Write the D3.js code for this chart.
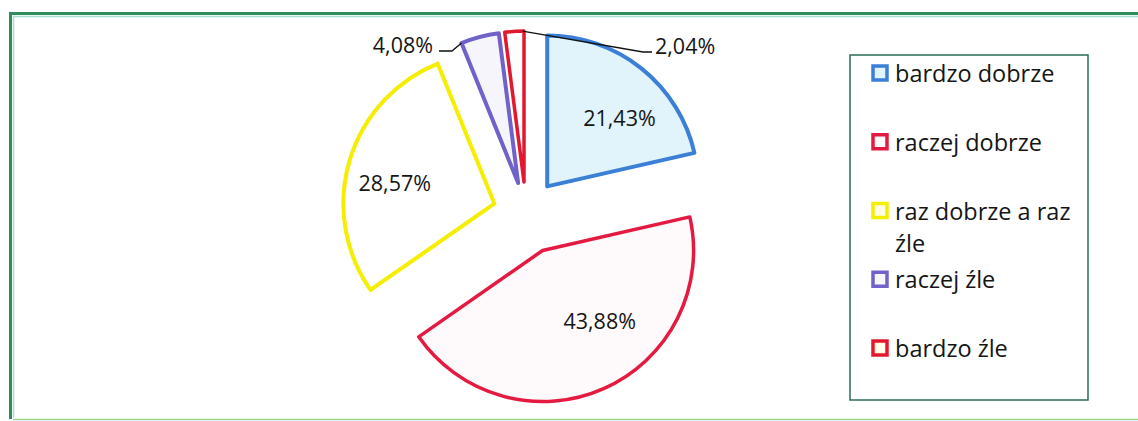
<!DOCTYPE html>
<html><head><meta charset="utf-8">
<script src="https://cdn.jsdelivr.net/npm/d3@7"></script>
<style>html,body{margin:0;padding:0;background:#fff;overflow:hidden}</style>
</head><body>
<svg id="c" width="1138" height="421"></svg>
<script>
// ---- data ----
const categories = ["bardzo dobrze", "raczej dobrze", "raz dobrze a raz źle", "raczej źle", "bardzo źle"];
const values = [21.43, 43.88, 28.57, 4.08, 2.04];
const labels = ["21,43%", "43,88%", "28,57%", "4,08%", "2,04%"];
const legendLines = [["bardzo dobrze"], ["raczej dobrze"], ["raz dobrze a raz", "źle"], ["raczej źle"], ["bardzo źle"]];

// ---- style ----
const strokes = ["#3b7fd6", "#e51a40", "#f4ee00", "#6f62c9", "#e3182e"];
const fills = ["#e1f3fb", "#fefafb", "#ffffff", "#f6f5fc", "#ffffff"];
const strokeW = [4, 3.5, 4, 4, 3.5];
const explode = [34, 41, 33, 31, 31];
const labelNudge = [[12, 7], [18, -18], [-7, 6], [0, 0], [0, 0]];
const font = "'Open Sans', 'DejaVu Sans', sans-serif";

const svg = d3.select("#c");
const cx = 526, cy = 213, R = 151;

// frame
svg.append("path").attr("d", "M1140,13.5 H10.5 V419").attr("fill", "none")
  .attr("stroke", "#2f8d5c").attr("stroke-width", 3);
svg.append("path").attr("d", "M1140,16.5 H13.5 V417.5").attr("fill", "none")
  .attr("stroke", "#a9dcd0").attr("stroke-width", 1.5);
svg.append("line").attr("x1", 13).attr("x2", 1138).attr("y1", 419.5).attr("y2", 419.5)
  .attr("stroke", "#9bd58a").attr("stroke-width", 1.5);

const pie = d3.pie().sort(null).value(d => d)(values);
const arc = d3.arc().innerRadius(0).outerRadius(R);
const labelArc = d3.arc().innerRadius(R * 0.64).outerRadius(R * 0.64);

const g = svg.append("g").attr("transform", `translate(${cx},${cy})`);

const slices = g.selectAll("g.s").data(pie).join("g").attr("class", "s")
  .attr("transform", (d, i) => {
    const m = (d.startAngle + d.endAngle) / 2;
    return `translate(${explode[i] * Math.sin(m)},${-explode[i] * Math.cos(m)})`;
  });

slices.append("path").attr("d", arc)
  .attr("fill", (d, i) => fills[i]).attr("stroke", (d, i) => strokes[i])
  .attr("stroke-width", (d, i) => strokeW[i]).attr("stroke-linejoin", "round");

// inside labels for the big slices
slices.filter((d, i) => i < 3).append("text")
  .attr("x", (d, i) => labelArc.centroid(d)[0] + labelNudge[i][0])
  .attr("y", (d, i) => labelArc.centroid(d)[1] + labelNudge[i][1])
  .attr("text-anchor", "middle").attr("dominant-baseline", "central")
  .attr("font-family", font).attr("font-size", 21.5).attr("font-weight", 500).attr("fill", "#151515")
  .text((d, i) => labels[i]);

// outside labels with leader lines for the small slices
function edgePoint(i, ang) {
  const d = pie[i], m = (d.startAngle + d.endAngle) / 2;
  const ox = explode[i] * Math.sin(m), oy = -explode[i] * Math.cos(m);
  return [cx + ox + R * Math.sin(ang), cy + oy - R * Math.cos(ang)];
}
const p3 = edgePoint(3, pie[3].startAngle);
const p4 = edgePoint(4, pie[4].endAngle - 0.01);
const line = d3.line();
svg.append("path").attr("d", line([p3, [452, 51], [439, 51]]))
  .attr("fill", "none").attr("stroke", "#111").attr("stroke-width", 1.3);
svg.append("path").attr("d", line([p4, [643, 52], [652, 52]]))
  .attr("fill", "none").attr("stroke", "#111").attr("stroke-width", 1.3);
svg.append("text").attr("x", 433).attr("y", 44).attr("text-anchor", "end")
  .attr("dominant-baseline", "central").attr("font-family", font).attr("font-size", 21.5)
  .attr("font-weight", 500).attr("fill", "#151515").text(labels[3]);
svg.append("text").attr("x", 655).attr("y", 45).attr("text-anchor", "start")
  .attr("dominant-baseline", "central").attr("font-family", font).attr("font-size", 21.5)
  .attr("font-weight", 500).attr("fill", "#151515").text(labels[4]);

// legend
svg.append("rect").attr("x", 850).attr("y", 55).attr("width", 238).attr("height", 345)
  .attr("fill", "#fff").attr("stroke", "#2b6b57").attr("stroke-width", 1.5);
const lg = svg.append("g");
const rowY = d3.scalePoint().domain(categories).range([73, 348]);
categories.forEach((c, i) => {
  const y = rowY(c);
  lg.append("rect").attr("x", 873).attr("y", y - 7).attr("width", 14).attr("height", 14)
    .attr("fill", fills[i] === "#ffffff" ? "#fffde8" : fills[i]).attr("stroke", strokes[i]).attr("stroke-width", 3.5);
  const t = lg.append("text").attr("font-family", font).attr("font-size", 23.5)
    .attr("font-weight", 500).attr("fill", "#151515");
  legendLines[i].forEach((ln, k) => {
    t.append("tspan").attr("x", 895).attr("y", y + k * 32).attr("dominant-baseline", "central").text(ln);
  });
});
</script>
</body></html>
